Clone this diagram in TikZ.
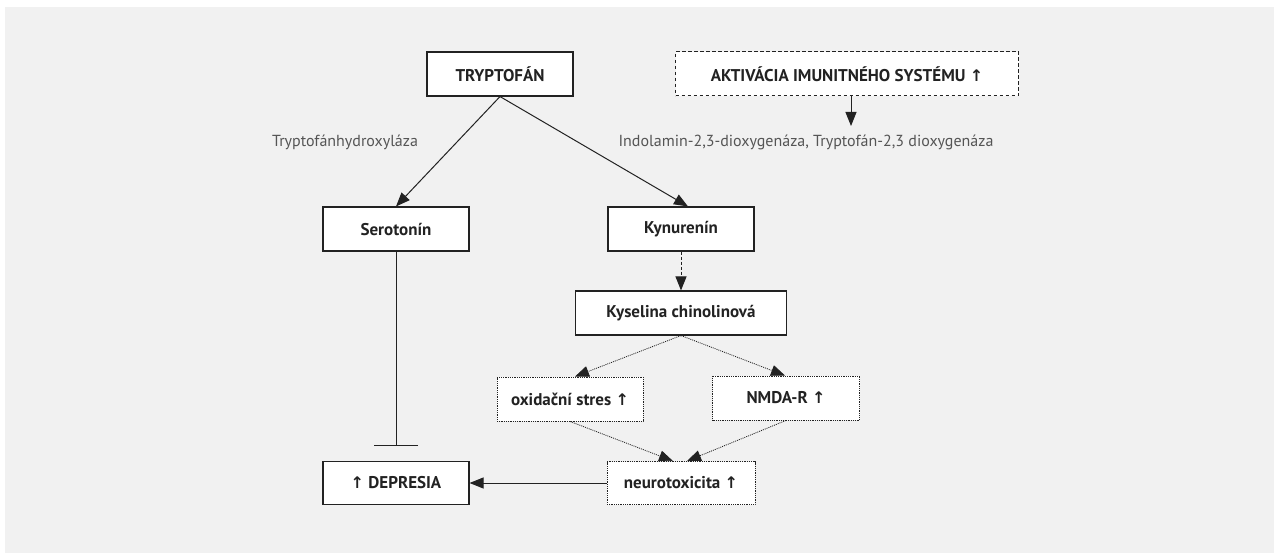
\documentclass[tikz,border=0pt]{standalone}
\usepackage{fontspec}
\setmainfont{PT Sans}
\newfontfamily\arrfont{DejaVu Sans}
\newcommand{\upar}{{\arrfont\fontsize{16}{18}\selectfont ↑}}
\usetikzlibrary{arrows.meta}
\definecolor{bgc}{HTML}{F1F1F1}
\definecolor{txt}{HTML}{222222}
\definecolor{lbl}{HTML}{555555}
\begin{document}
\begin{tikzpicture}[x=1pt,y=-1pt,
  box/.style={draw=txt,fill=white,line width=1.1pt,minimum width=146pt,minimum height=44pt,inner sep=0pt,
    font=\fontsize{17}{20}\selectfont\bfseries,text=txt},
  dashbox/.style={box,dash pattern=on 3.5pt off 2.5pt,line width=1pt},
  dotbox/.style={box,line width=0.9pt,dash pattern=on 0.9pt off 0.9pt},
  lab/.style={font=\fontsize{16}{19}\selectfont,text=lbl,inner sep=0pt},
  arr/.style={draw=txt,line width=1pt,-{Triangle[length=14pt,width=11pt]}},
  darr/.style={arr,dash pattern=on 3pt off 2pt},
  oarr/.style={arr,line width=0.8pt,dash pattern=on 1pt off 1pt}
]
\fill[white] (0,0) rectangle (1274,553);
\fill[bgc] (5,7) rectangle (1274,553);
\useasboundingbox (0,0) rectangle (1274,553);

\node[box] (tryp) at (500,74) {TRYPTOFÁN};
\node[dashbox,minimum width=343pt] (akt) at (847,74) {AKTIVÁCIA IMUNITNÉHO SYSTÉMU \upar};
\node[lab] (hyd) at (345,142) {Tryptofánhydroxyláza};
\node[lab] (ido) at (806,142) {Indolamin-2,3-dioxygenáza, Tryptofán-2,3 dioxygenáza};
\node[box] (sero) at (396,229) {Serotonín};
\node[box] (kyn) at (681,229) {Kynurenín};
\node[box,minimum width=211pt] (kys) at (681,313) {Kyselina chinolinová};
\node[dotbox] (oxi) at (570,399) {oxidační stres \upar};
\node[dotbox,minimum width=147pt] (nmda) at (786,398) {NMDA-R \upar};
\node[dotbox,minimum width=148pt,minimum height=43pt] (neuro) at (681,483) {neurotoxicita \upar};
\node[box,minimum height=43pt] (dep) at (396,483) {\upar{} DEPRESIA};
\coordinate (aktend) at (851,126);
\coordinate (inh) at (396,446);

\draw[arr] (tryp.south) -- (sero.north);
\draw[arr] (tryp.south) -- ([xshift=7pt]kyn.north);
\draw[arr] ([xshift=4pt]akt.south) -- (aktend);
\draw[darr] (kyn.south) -- (kys.north);
\draw[oarr] (kys.south) -- ([xshift=5pt]oxi.north);
\draw[oarr] (kys.south) -- ([xshift=-1pt]nmda.north);
\draw[oarr] (oxi.south) -- ([xshift=-8pt]neuro.north);
\draw[oarr] (nmda.south) -- ([xshift=6pt]neuro.north);
\draw[arr] (neuro.west) -- (dep.east);
\draw[draw=txt,line width=1pt,-{Bar[width=44pt,line width=1.2pt]}] (sero.south) -- (inh);
\end{tikzpicture}
\end{document}
